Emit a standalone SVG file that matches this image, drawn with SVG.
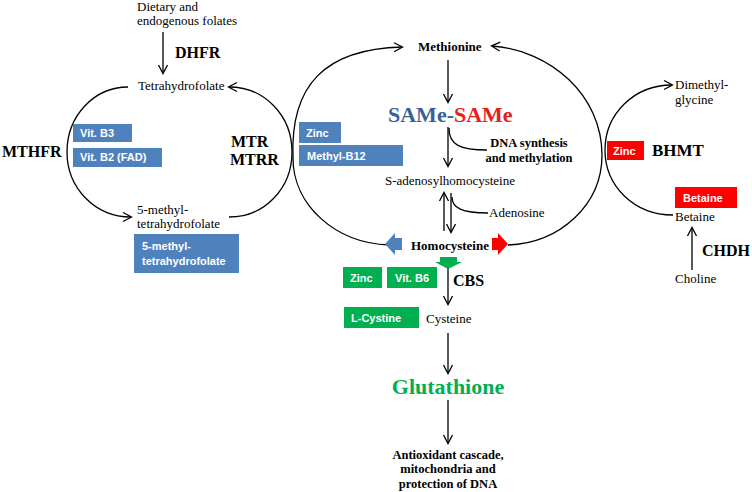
<svg xmlns="http://www.w3.org/2000/svg" width="752" height="492" viewBox="0 0 752 492">
<defs>
<marker id="ah" markerUnits="userSpaceOnUse" markerWidth="12" markerHeight="12" refX="8" refY="4.5" orient="auto" overflow="visible">
<path d="M0,0 L8.5,4.5 L0,9" fill="none" stroke="#000" stroke-width="1.3"/>
</marker>
</defs>
<style>
.t{font-family:"Liberation Serif","Times New Roman",serif;font-size:13px;fill:#000}
.b{font-family:"Liberation Serif","Times New Roman",serif;font-weight:bold;fill:#000}
.bx{font-family:"Liberation Sans",Arial,sans-serif;font-weight:bold;font-size:11px;fill:#fff}
.ln{fill:none;stroke:#000;stroke-width:1.3}
.ar{fill:none;stroke:#000;stroke-width:1.3;marker-end:url(#ah)}
.blue{fill:#4f81bd}
.green{fill:#00b050}
.red{fill:#ff0000}
</style>
<rect width="752" height="492" fill="#fff"/>

<g id="connectors">
<path class="ar" d="M163,32 L163,73"/>
<path class="ar" d="M128,87 C94,87 67,116 67,152 C67,188 95,217 131,217"/>
<path class="ar" d="M229,217 C265,217 292,188 292,152 C292,116 265,87 229,87"/>
<path class="ar" d="M389,245 C335,243 293,205 293,158 C290,85 325,49 402,47"/>
<path class="ar" d="M508,245 C560,243 602,205 602,155 C602,95 550,50 492,46"/>
<path class="ar" d="M673,215 C634,215 605,186 605,150 C605,114 634,85 672,85"/>
<path class="ar" d="M448,60 L448,102"/>
<path class="ar" d="M448,127 L448,166"/>
<path class="ln" d="M449,128 C449,145 460,150 487,150"/>
<path class="ar" d="M444,231 L444,193"/>
<path class="ar" d="M451,193 L451,232"/>
<path class="ln" d="M452,197 C452,208 462,213 488,213"/>
<path class="ar" d="M448,268 L448,304"/>
<path class="ar" d="M448,333 L448,373"/>
<path class="ar" d="M448,400 L448,443"/>
<path class="ar" d="M692,270 L692,228"/>
</g>

<g id="dietary">
<text class="t" x="137" y="11">Dietary and</text>
<text class="t" x="137" y="25">endogenous folates</text>
</g>
<g id="dhfr"><text class="b" font-size="16" x="175" y="58">DHFR</text></g>
<g id="thf"><text class="t" x="138" y="90">Tetrahydrofolate</text></g>
<g id="mthfr"><text class="b" font-size="16" x="2" y="157">MTHFR</text></g>
<g id="vitb3"><rect class="blue" x="73" y="124" width="59" height="18"/><text class="bx" x="80" y="137">Vit. B3</text></g>
<g id="vitb2"><rect class="blue" x="73" y="148" width="89" height="19"/><text class="bx" x="80" y="161">Vit. B2 (FAD)</text></g>
<g id="mtr">
<text class="b" font-size="16" x="231" y="147">MTR</text>
<text class="b" font-size="16" x="230" y="165">MTRR</text>
</g>
<g id="mthf">
<text class="t" x="137" y="214">5-methyl-</text>
<text class="t" x="137" y="228">tetrahydrofolate</text>
</g>
<g id="mthfbox">
<rect class="blue" x="134" y="234" width="105" height="39"/>
<text class="bx" font-size="12" x="142" y="250">5-methyl-</text>
<text class="bx" font-size="12" x="142" y="265">tetrahydrofolate</text>
</g>

<g id="zinc1"><rect class="blue" x="299" y="122" width="42" height="21"/><text class="bx" x="306" y="137">Zinc</text></g>
<g id="methylb12"><rect class="blue" x="299" y="145" width="104" height="21"/><text class="bx" font-size="11.5" x="307" y="160">Methyl-B12</text></g>

<g id="methionine"><text class="b" font-size="13" x="418" y="51">Methionine</text></g>
<g id="same"><text class="b" font-size="22" x="388" y="122"><tspan fill="#3b5f99">SAMe</tspan><tspan fill="#3b5f99">-</tspan><tspan fill="#e8201c">SAMe</tspan></text></g>
<g id="dna">
<text class="b" font-size="12.5" x="529" y="147" text-anchor="middle">DNA synthesis</text>
<text class="b" font-size="12.5" x="529" y="162" text-anchor="middle">and methylation</text>
</g>
<g id="sah"><text class="t" x="385" y="185">S-adenosylhomocysteine</text></g>
<g id="adenosine"><text class="t" x="489" y="217">Adenosine</text></g>
<g id="homocysteine">
<path class="blue" d="M385,244 L395,233 L395,238 L402,238 L402,250 L395,250 L395,255 Z"/>
<path class="red" d="M508,244 L498,233 L498,238 L492,238 L492,250 L498,250 L498,255 Z"/>
<path class="green" d="M440,257 L457,257 L457,262 L462,262 L448,269 L435,262 L440,262 Z"/>
<text class="b" font-size="13" x="411" y="250">Homocysteine</text>
</g>
<g id="zinc2"><rect class="green" x="343" y="267" width="39" height="21"/><text class="bx" x="350" y="282">Zinc</text></g>
<g id="vitb6"><rect class="green" x="387" y="267" width="50" height="21"/><text class="bx" x="395" y="282">Vit. B6</text></g>
<g id="cbs"><text class="b" font-size="16" x="453" y="286">CBS</text></g>
<g id="lcystine"><rect class="green" x="344" y="307" width="75" height="21"/><text class="bx" x="351" y="322">L-Cystine</text></g>
<g id="cysteine"><text class="t" x="426" y="323">Cysteine</text></g>
<g id="glutathione"><text class="b" font-size="22" fill="#00b050" x="448" y="394" text-anchor="middle" style="fill:#00b050">Glutathione</text></g>
<g id="antioxidant">
<text class="b" font-size="12.5" x="448" y="459" text-anchor="middle">Antioxidant cascade,</text>
<text class="b" font-size="12.5" x="448" y="473" text-anchor="middle">mitochondria and</text>
<text class="b" font-size="12.5" x="448" y="488" text-anchor="middle">protection of DNA</text>
</g>

<g id="dimethylglycine">
<text class="t" x="675" y="89">Dimethyl-</text>
<text class="t" x="675" y="104">glycine</text>
</g>
<g id="zinc3"><rect class="red" x="607" y="141" width="37" height="19"/><text class="bx" x="613" y="155">Zinc</text></g>
<g id="bhmt"><text class="b" font-size="17" x="652" y="156">BHMT</text></g>
<g id="betainebox"><rect class="red" x="675" y="187" width="62" height="21"/><text class="bx" x="683" y="202">Betaine</text></g>
<g id="betaine"><text class="t" x="675" y="221">Betaine</text></g>
<g id="chdh"><text class="b" font-size="16" x="702" y="256">CHDH</text></g>
<g id="choline"><text class="t" x="675" y="283">Choline</text></g>
</svg>
